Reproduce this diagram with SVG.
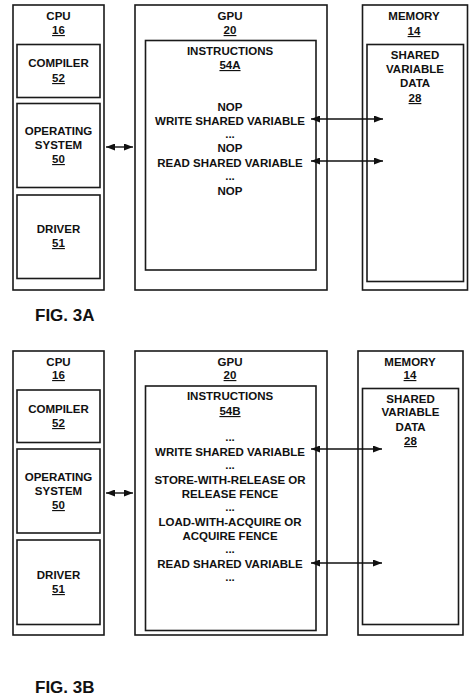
<svg xmlns="http://www.w3.org/2000/svg" width="476" height="696" viewBox="0 0 476 696">
<defs>
<marker id="ah" viewBox="0 0 9 7" refX="9" refY="3.5" markerWidth="9" markerHeight="7" markerUnits="userSpaceOnUse" orient="auto-start-reverse">
<path d="M0,0 L9,3.5 L0,7 z" fill="#111"/>
</marker>
<style>
rect{fill:#fff;stroke:#1a1a1a;stroke-width:1.6}
text{font-family:"Liberation Sans",Arial,sans-serif;font-weight:bold;font-size:11.5px;fill:#111;text-anchor:middle}
.u{text-decoration:underline}
.fig{font-size:17px;text-anchor:start}
.c line{stroke:#111;stroke-width:1.4;marker-start:url(#ah);marker-end:url(#ah)}
</style>
</defs>
<rect x="0" y="0" width="476" height="696" style="fill:#fff;stroke:none"/>

<!-- FIG 3A -->
<g id="cpu-a">
<rect x="13" y="5" width="91" height="285"/>
<text x="58.5" y="20">CPU</text>
<text x="58.5" y="34" class="u">16</text>
</g>
<g id="compiler-a">
<rect x="17" y="44.5" width="83" height="53"/>
<text x="58.5" y="67">COMPILER</text>
<text x="58.5" y="82" class="u">52</text>
</g>
<g id="os-a">
<rect x="17" y="103.5" width="83" height="84"/>
<text x="58.5" y="135">OPERATING</text>
<text x="58.5" y="149">SYSTEM</text>
<text x="58.5" y="163" class="u">50</text>
</g>
<g id="driver-a">
<rect x="17" y="195" width="83" height="83.5"/>
<text x="58.5" y="233">DRIVER</text>
<text x="58.5" y="247" class="u">51</text>
</g>
<g id="gpu-a">
<rect x="135" y="5" width="192" height="285"/>
<text x="230" y="20">GPU</text>
<text x="230" y="34" class="u">20</text>
</g>
<g id="instr-a">
<rect x="145.5" y="40.5" width="170.5" height="229.5"/>
<text x="230" y="55">INSTRUCTIONS</text>
<text x="230" y="69" class="u">54A</text>
<text x="230" y="111">NOP</text>
<text x="230" y="125">WRITE SHARED VARIABLE</text>
<text x="230" y="138">...</text>
<text x="230" y="152">NOP</text>
<text x="230" y="167">READ SHARED VARIABLE</text>
<text x="230" y="180">...</text>
<text x="230" y="195">NOP</text>
</g>
<g id="memory-a">
<rect x="362.5" y="5" width="105" height="285"/>
<text x="414" y="20">MEMORY</text>
<text x="414" y="35" class="u">14</text>
</g>
<g id="shared-a">
<rect x="367" y="44.5" width="96.5" height="237"/>
<text x="415" y="59">SHARED</text>
<text x="415" y="73">VARIABLE</text>
<text x="415" y="87">DATA</text>
<text x="415" y="102" class="u">28</text>
</g>
<text x="35" y="321" class="fig">FIG. 3A</text>

<!-- FIG 3B -->
<g id="cpu-b">
<rect x="13" y="351" width="91" height="284"/>
<text x="58.5" y="366">CPU</text>
<text x="58.5" y="379" class="u">16</text>
</g>
<g id="compiler-b">
<rect x="17" y="390" width="83" height="52.5"/>
<text x="58.5" y="413">COMPILER</text>
<text x="58.5" y="427" class="u">52</text>
</g>
<g id="os-b">
<rect x="17" y="449" width="83" height="84"/>
<text x="58.5" y="481">OPERATING</text>
<text x="58.5" y="495">SYSTEM</text>
<text x="58.5" y="509" class="u">50</text>
</g>
<g id="driver-b">
<rect x="17" y="540" width="83" height="84.5"/>
<text x="58.5" y="579">DRIVER</text>
<text x="58.5" y="593" class="u">51</text>
</g>
<g id="gpu-b">
<rect x="135" y="351" width="192" height="284"/>
<text x="230" y="366">GPU</text>
<text x="230" y="379" class="u">20</text>
</g>
<g id="instr-b">
<rect x="145.5" y="386" width="170.5" height="244.5"/>
<text x="230" y="400">INSTRUCTIONS</text>
<text x="230" y="415" class="u">54B</text>
<text x="230" y="441">...</text>
<text x="230" y="456">WRITE SHARED VARIABLE</text>
<text x="230" y="469">...</text>
<text x="230" y="484">STORE-WITH-RELEASE OR</text>
<text x="230" y="498">RELEASE FENCE</text>
<text x="230" y="511">...</text>
<text x="230" y="526">LOAD-WITH-ACQUIRE OR</text>
<text x="230" y="540">ACQUIRE FENCE</text>
<text x="230" y="553">...</text>
<text x="230" y="568">READ SHARED VARIABLE</text>
<text x="230" y="581">...</text>
</g>
<g id="memory-b">
<rect x="358" y="351" width="105" height="284"/>
<text x="410" y="366">MEMORY</text>
<text x="410" y="379" class="u">14</text>
</g>
<g id="shared-b">
<rect x="362.5" y="388.5" width="96" height="236"/>
<text x="410.5" y="403">SHARED</text>
<text x="410.5" y="416">VARIABLE</text>
<text x="410.5" y="431">DATA</text>
<text x="410.5" y="445" class="u">28</text>
</g>
<text x="35" y="693" class="fig">FIG. 3B</text>

<g id="connectors" class="c">
<line x1="106" y1="147" x2="133" y2="147"/>
<line x1="311" y1="119" x2="383" y2="119"/>
<line x1="311" y1="161" x2="383" y2="161"/>
<line x1="106" y1="493" x2="133" y2="493"/>
<line x1="311" y1="449" x2="382" y2="449"/>
<line x1="311" y1="563" x2="382" y2="563"/>
</g>
</svg>
